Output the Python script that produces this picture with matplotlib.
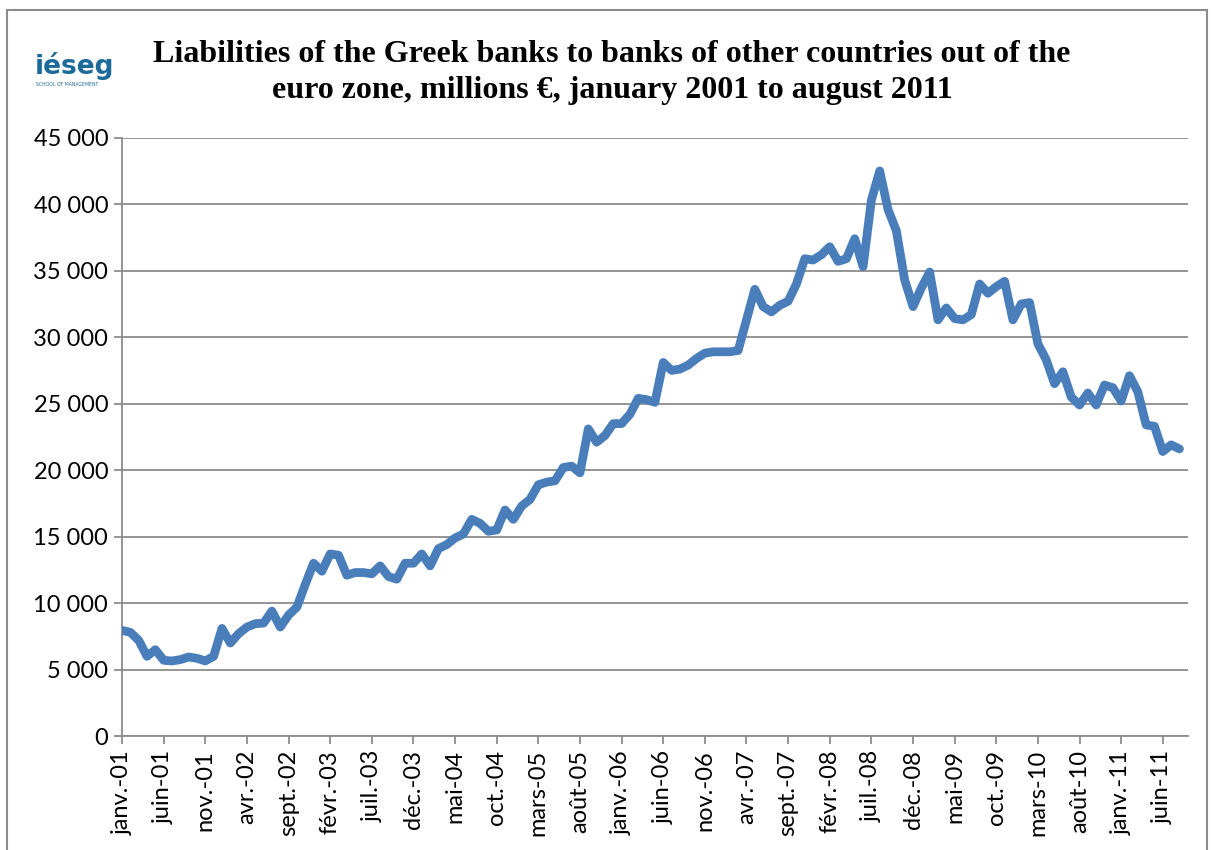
import matplotlib.pyplot as plt
from matplotlib.patches import Rectangle

# Engagements des banques grecques envers les banques hors zone euro (M€), janv. 2001 - août 2011
values = [
    7950, 7800, 7200, 6000, 6500, 5700, 5650, 5750, 5950, 5850,
    5650, 6000, 8100, 7000, 7700, 8200, 8450, 8500, 9400, 8200,
    9100, 9700, 11400, 13000, 12400, 13700, 13600, 12100, 12300, 12300,
    12200, 12800, 12000, 11800, 13000, 13000, 13700, 12800, 14100, 14400,
    14900, 15200, 16300, 16000, 15400, 15500, 17000, 16300, 17300, 17800,
    18900, 19100, 19200, 20200, 20300, 19800, 23100, 22100, 22600, 23500,
    23500, 24200, 25400, 25300, 25100, 28100, 27500, 27600, 27900, 28400,
    28800, 28900, 28900, 28900, 29000, 31300, 33600, 32300, 31900, 32400,
    32700, 34000, 35900, 35800, 36200, 36800, 35700, 35900, 37400, 35300,
    40300, 42500, 39600, 38000, 34300, 32300, 33700, 34900, 31300, 32200,
    31400, 31300, 31700, 34000, 33300, 33800, 34200, 31300, 32500, 32600,
    29500, 28300, 26500, 27400, 25500, 24900, 25800, 24900, 26400, 26200,
    25200, 27100, 25900, 23400, 23300, 21400, 21900, 21600,
]

tick_labels = ["janv.-01", "juin-01", "nov.-01", "avr.-02", "sept.-02", "févr.-03",
               "juil.-03", "déc.-03", "mai-04", "oct.-04", "mars-05", "août-05",
               "janv.-06", "juin-06", "nov.-06", "avr.-07", "sept.-07", "févr.-08",
               "juil.-08", "déc.-08", "mai-09", "oct.-09", "mars-10", "août-10",
               "janv.-11", "juin-11"]
y_ticks = list(range(0, 45001, 5000))

fig = plt.figure(figsize=(12.12, 8.5), dpi=100)
ax = fig.add_axes([0.1007, 0.134, 0.8793, 0.704])

months = list(range(len(values)))
ax.plot(months, values, color="#4a7ebb", lw=6.3, solid_joinstyle="round",
        solid_capstyle="round", zorder=3)

ax.set_xlim(0, 128)
ax.set_ylim(0, 45000)
ax.set_yticks(y_ticks)
ax.set_yticklabels([f"{v:,}".replace(",", " ") for v in y_ticks],
                   fontsize=17, family="Lato")
ax.set_xticks(range(0, len(values), 5))
ax.set_xticklabels(tick_labels, rotation=90, fontsize=17, family="Lato")
ax.grid(axis="y", color="#8c8c8c", lw=1.3)
ax.set_axisbelow(True)
for s in ["top", "right"]:
    ax.spines[s].set_visible(False)
for s in ["left", "bottom"]:
    ax.spines[s].set_color("#8c8c8c")
    ax.spines[s].set_linewidth(1.3)
ax.tick_params(colors="#8c8c8c", labelcolor="black", length=6, width=1.3, pad=4)

fig.text(0.505, 0.915, "Liabilities of the Greek banks to banks of other countries out of the\n"
         "euro zone, millions €, january 2001 to august 2011",
         ha="center", va="center", fontsize=23, fontweight="bold",
         family="Liberation Serif", linespacing=1.3)

# logo
fig.text(0.029, 0.922, "iéseg", fontsize=19, fontweight="heavy", color="#1b6a9a",
         family="DejaVu Sans", ha="left", va="center")
fig.text(0.030, 0.900, "SCHOOL OF MANAGEMENT", fontsize=3.3, color="#1b6a9a",
         ha="left", va="center")

fig.patches.append(Rectangle((7 / 1212, -0.05), 1200 / 1212, 1.05 - 10 / 850,
                             transform=fig.transFigure, fill=False,
                             edgecolor="#8c8c8c", lw=1.5))

fig.savefig("out.png", dpi=100)
